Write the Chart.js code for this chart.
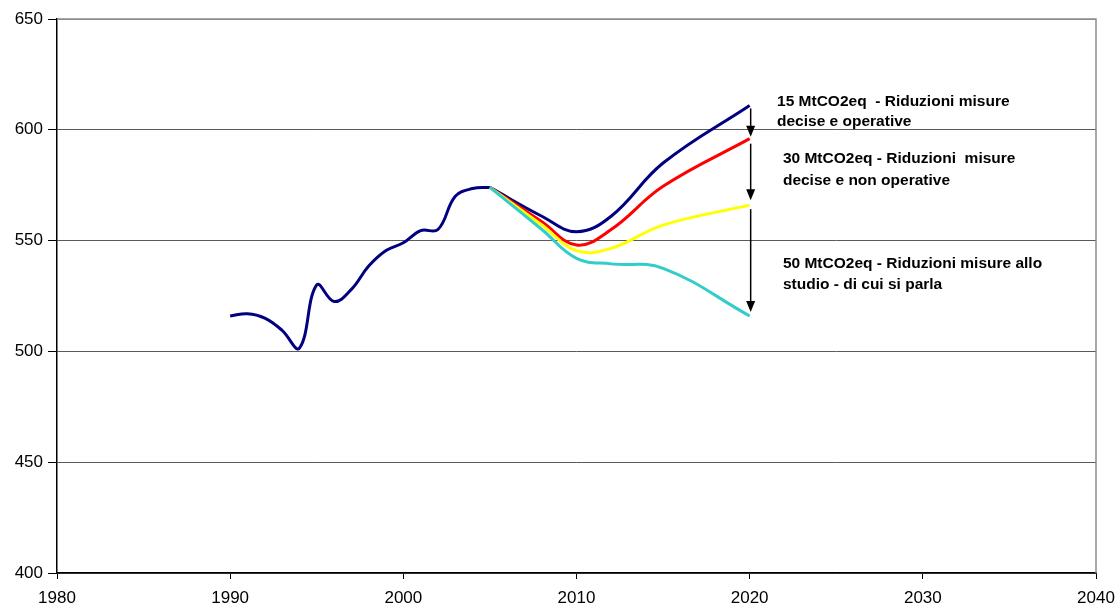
<!DOCTYPE html>
<html>
<head>
<meta charset="utf-8">
<script src="https://cdn.jsdelivr.net/npm/chart.js@4.4.0/dist/chart.umd.min.js"></script>
<style>
  html, body { margin: 0; padding: 0; background: #fff; }
  #wrap { width: 1118px; height: 609px; position: relative; }
</style>
</head>
<body>
<div id="wrap"><canvas id="chartjs-0"></canvas></div>
<script>
// historical emissions (MtCO2eq)
var histYears = [1990, 1991, 1992, 1993, 1994, 1995, 1996, 1997, 1998, 1999, 2000, 2001, 2002, 2003, 2004, 2005];
var histValues = [516, 517, 515, 509.5, 501.5, 530, 522.5, 528, 538.5, 545.5, 549, 554.5, 555, 570, 573.5, 574];

// scenarios
var projYears = [2005, 2008, 2010, 2012, 2015, 2020];
var baseValues = [574, 561, 554, 561, 585, 611];
var redValues = [574, 558.5, 548, 555, 574.5, 596];
var yellowValues = [574, 557, 545.5, 546.5, 557, 566];
var cyanValues = [574, 555, 542, 539.5, 537.5, 516];

var xTicks = [1980, 1990, 2000, 2010, 2020, 2030, 2040];
var yTicks = [400, 450, 500, 550, 600, 650];

var notes = [
    ["15 MtCO2eq  - Riduzioni misure", "decise e operative"],
    ["30 MtCO2eq - Riduzioni  misure", "decise e non operative"],
    ["50 MtCO2eq - Riduzioni misure allo", "studio - di cui si parla"]
];

function toXY(xs, ys) {
    var out = [];
    for (var i = 0; i < xs.length; i++) {
        out.push({x: xs[i], y: ys[i]});
    }
    return out;
}

function lineSet(label, xs, ys, color) {
    return {
        label: label,
        data: toXY(xs, ys),
        borderColor: color,
        backgroundColor: color,
        borderWidth: 3,
        pointRadius: 0,
        fill: false,
        tension: 0.4
    };
}

/* arrows, notes and the grey frame */
var notesPlugin = {
    id: "notes",
    afterDatasetsDraw: function(chart) {
        var ctx = chart.ctx;
        var xs = chart.scales.x;
        var ys = chart.scales.y;
        var area = chart.chartArea;

        ctx.save();
        ctx.strokeStyle = "#8c8c8c";
        ctx.lineWidth = 1.5;
        ctx.beginPath();
        ctx.moveTo(area.left, area.top);
        ctx.lineTo(area.right, area.top);
        ctx.lineTo(area.right, area.bottom);
        ctx.stroke();

        var last = projYears.length - 1;
        var ends = [baseValues[last], redValues[last], yellowValues[last], cyanValues[last]];
        var ax = xs.getPixelForValue(2020) + 1;
        var gaps = [[3, 2], [5, 5], [4, 4]];
        ctx.strokeStyle = "#000";
        ctx.fillStyle = "#000";
        ctx.lineWidth = 1.5;
        for (var i = 0; i < 3; i++) {
            var y0 = ys.getPixelForValue(ends[i]) + gaps[i][0];
            var y1 = ys.getPixelForValue(ends[i + 1]) - gaps[i][1];
            ctx.beginPath();
            ctx.moveTo(ax, y0);
            ctx.lineTo(ax, y1 - 10);
            ctx.stroke();
            ctx.beginPath();
            ctx.moveTo(ax - 4.5, y1 - 11);
            ctx.lineTo(ax + 4.5, y1 - 11);
            ctx.lineTo(ax, y1);
            ctx.closePath();
            ctx.fill();
        }

        ctx.font = "bold 15.5px 'Liberation Sans', Arial, sans-serif";
        ctx.textBaseline = "middle";
        ctx.textAlign = "left";
        var spots = [[2021.58, 612.7, 603.7], [2021.92, 586.8, 576.9], [2021.92, 539.4, 530]];
        for (var j = 0; j < notes.length; j++) {
            var tx = xs.getPixelForValue(spots[j][0]);
            ctx.fillText(notes[j][0], tx, ys.getPixelForValue(spots[j][1]));
            ctx.fillText(notes[j][1], tx, ys.getPixelForValue(spots[j][2]));
        }
        ctx.restore();
    }
};

var ctx0 = document.getElementById("chartjs-0");
var myChart = new Chart(ctx0, {
    type: "line",
    data: {
        datasets: [
            lineSet("50 MtCO2eq", projYears, cyanValues, "#33cccc"),
            lineSet("30 MtCO2eq", projYears, yellowValues, "#ffff00"),
            lineSet("15 MtCO2eq", projYears, redValues, "#ff0000"),
            lineSet("Tendenziale", projYears, baseValues, "#000080"),
            lineSet("Storico", histYears, histValues, "#000080")
        ]
    },
    options: {
        responsive: true,
        maintainAspectRatio: false,
        animation: false,
        layout: { padding: { top: 19, right: 22, left: 0, bottom: 0 } },
        plugins: {
            legend: { display: false },
            tooltip: { enabled: false }
        },
        scales: {
            x: {
                type: "linear",
                min: 1980,
                max: 2040,
                afterFit: function(scale) {
                    scale.height = 36;
                    scale.paddingLeft = 0;
                    scale.paddingRight = 0;
                },
                afterBuildTicks: function(scale) {
                    scale.ticks = xTicks.map(function(v) { return {value: v}; });
                },
                ticks: {
                    color: "#000",
                    font: { family: "'Liberation Sans', Arial, sans-serif", size: 17 },
                    padding: 9,
                    maxRotation: 0,
                    callback: function(v) { return String(v); }
                },
                grid: {
                    drawOnChartArea: false,
                    drawTicks: true,
                    tickLength: 6,
                    tickColor: "#000"
                },
                border: { display: true, color: "#000", width: 1.5 }
            },
            y: {
                min: 400,
                max: 650,
                afterFit: function(scale) {
                    scale.width = 57;
                    scale.paddingTop = 0;
                    scale.paddingBottom = 0;
                },
                afterBuildTicks: function(scale) {
                    scale.ticks = yTicks.map(function(v) { return {value: v}; });
                },
                ticks: {
                    color: "#000",
                    font: { family: "'Liberation Sans', Arial, sans-serif", size: 17 },
                    padding: 5,
                    callback: function(v) { return String(v); }
                },
                grid: {
                    color: function(c) { return c.tick && c.tick.value === 650 ? "#8c8c8c" : "#5a5a5a"; },
                    lineWidth: 1,
                    tickLength: 9,
                    tickColor: "#000"
                },
                border: { display: true, color: "#000", width: 1.5 }
            }
        }
    },
    plugins: [notesPlugin]
});
</script>
</body>
</html>
